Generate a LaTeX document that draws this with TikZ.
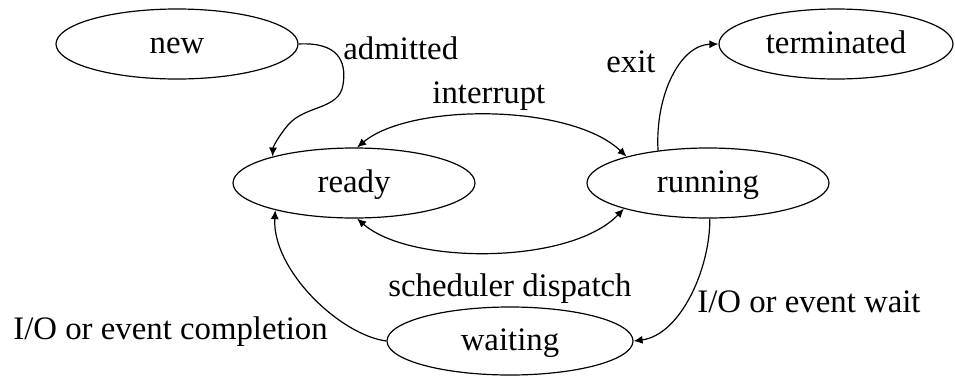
\documentclass[tikz,border=0pt]{standalone}
\usepackage{fontspec}
\setmainfont{Liberation Serif}
\usetikzlibrary{shapes.geometric,arrows.meta}
\begin{document}
\begin{tikzpicture}[x=0.5pt,y=-0.5pt,
  state/.style={draw, ellipse, line width=0.6pt, inner sep=0pt,
    text height=11.5pt, text depth=2.5pt,
    minimum width=121pt, minimum height=35pt},
  trans/.style={line width=0.6pt, -{Latex[length=4.5pt,width=4pt]}},
  both/.style={line width=0.6pt, {Latex[length=4.5pt,width=4pt]}-{Latex[length=4.5pt,width=4pt]}},
  lbl/.style={anchor=base west, inner sep=0pt}]
\fontsize{16.4}{19}\selectfont
\useasboundingbox (0,0) rectangle (955,376);

% states
\node[state] (new) at (177,44) {new};
\node[state, minimum width=117pt] (term) at (836,44) {terminated};
\node[state] (ready) at (354,183) {ready};
\node[state] (run) at (708,183) {running};
\node[state, minimum width=123pt, minimum height=34pt] (wait) at (510,341) {waiting};

% transitions
\draw[trans] (new.east) .. controls (337,42) and (347,60) .. (343,85)
  .. controls (339,110) and (305,105) .. (288,125)
  .. controls (278,137) and (273,147) .. (ready.162);
\draw[both] (ready.85) .. controls (410,103) and (570,103) .. (run.162);
\draw[both] (ready.275) .. controls (410,265) and (570,265) .. (run.197);
\draw[trans] (run.147) .. controls (655,95) and (680,45) .. (term.west);
\draw[trans] (run.273) .. controls (710,270) and (680,335) .. (wait.east);
\draw[trans] (wait.west) .. controls (340,335) and (272,270) .. (ready.199);

% labels
\node[lbl] (l1) at (343,59) {admitted};
\node[lbl] (l2) at (432,103) {interrupt};
\node[lbl] (l3) at (606,72) {exit};
\node[lbl] (l4) at (388,296) {scheduler dispatch};
\node[lbl] (l5) at (13,339) {I/O or event completion};
\node[lbl] (l6) at (697,312) {I/O or event wait};
\end{tikzpicture}
\end{document}
